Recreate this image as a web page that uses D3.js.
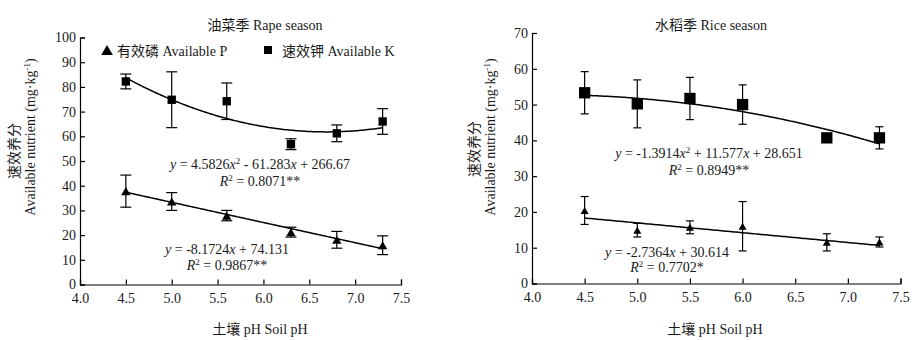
<!DOCTYPE html>
<html>
<head>
<meta charset="utf-8">
<script src="https://cdn.jsdelivr.net/npm/d3@7"></script>
<style>
  body { margin: 0; background: #fff; }
</style>
</head>
<body>
<svg width="918" height="340"></svg>
<script>
// data
const phRape = [4.5, 5.0, 5.6, 6.3, 6.8, 7.3];
const rapeK = [82.2, 74.8, 74.2, 56.8, 61.2, 66.0];
const rapeKErr = [3.0, 11.3, 7.4, 2.2, 3.4, 5.2];
const rapeP = [37.8, 33.6, 27.9, 21.2, 18.1, 15.9];
const rapePErr = [6.5, 3.6, 2.1, 2.0, 3.4, 3.8];

const phRice = [4.5, 5.0, 5.5, 6.0, 6.8, 7.3];
const riceK = [53.3, 50.2, 51.7, 50.0, 40.7, 40.7];
const riceKErr = [5.9, 6.7, 5.9, 5.5, 1.2, 3.1];
const riceP = [20.4, 14.9, 15.7, 16.0, 11.5, 11.6];
const ricePErr = [3.9, 1.9, 1.8, 6.9, 2.4, 1.4];

// trendline coefficients (highest power first)
const rapeKFit = [4.5826, -61.283, 266.67];
const rapePFit = [-8.1724, 74.131];
const riceKFit = [-1.3914, 11.577, 28.651];
const ricePFit = [-2.7364, 30.614];

const xTicks = [4.0, 4.5, 5.0, 5.5, 6.0, 6.5, 7.0, 7.5];

const FONT = '"Liberation Serif", "Noto Sans CJK SC"';

const svg = d3.select("svg");

const poly = (c, x) => c.reduce((acc, k) => acc * x + k, 0);

const triangle = d3.symbol().type(d3.symbolTriangle);
const square = d3.symbol().type(d3.symbolSquare);
// d3 centres the triangle on its centroid, shift so the box is centred instead
const triShift = (size) => Math.sqrt(size / (3 * Math.sqrt(3))) / 2;

// one panel
const drawPanel = (p) => {
  const x = d3.scaleLinear().domain([4, 7.5]).range(p.xRange);
  const y = d3.scaleLinear().domain([0, p.yMax]).range(p.yRange);
  const g = svg.append("g");

  // axes
  g.append("g")
      .attr("transform", `translate(0,${p.yRange[0]})`)
      .call(d3.axisBottom(x).tickValues(xTicks).tickSize(-5).tickPadding(9)
        .tickFormat(d3.format(".1f")))
      .call(a => a.selectAll("text").attr("font-size", 14))
      .call(a => a.selectAll("path,line").attr("stroke", "#000").attr("stroke-width", 1.2));

  g.append("g")
      .attr("transform", `translate(${p.xRange[0]},0)`)
      .call(d3.axisLeft(y).ticks(p.yMax / 10).tickSize(-5).tickPadding(4))
      .call(a => a.selectAll("text").attr("font-size", 14))
      .call(a => a.selectAll("path,line").attr("stroke", "#000").attr("stroke-width", 1.2));

  // trendlines
  const line = d3.line().x(d => x(d[0])).y(d => y(d[1]));
  [p.kFit, p.pFit].forEach(c => {
    const pts = d3.range(p.ph[0], p.ph[p.ph.length - 1] + 0.001, 0.02).map(v => [v, poly(c, v)]);
    g.append("path")
        .attr("d", line(pts))
        .attr("fill", "none")
        .attr("stroke", "#000")
        .attr("stroke-width", 1.5);
  });

  // error bars + markers
  const series = [
    { vals: p.k, err: p.kErr, sym: square.size(p.sqSize), dy: 0 },
    { vals: p.pv, err: p.pErr, sym: triangle.size(p.triSize), dy: triShift(p.triSize) }
  ];
  series.forEach(s => {
    const eg = g.append("g").attr("stroke", "#000").attr("stroke-width", 1.2);
    p.ph.forEach((ph, i) => {
      const cx = x(ph), top = y(s.vals[i] + s.err[i]), bot = y(s.vals[i] - s.err[i]);
      eg.append("line").attr("x1", cx).attr("x2", cx).attr("y1", top).attr("y2", bot);
      eg.append("line").attr("x1", cx - p.cap / 2).attr("x2", cx + p.cap / 2).attr("y1", top).attr("y2", top);
      eg.append("line").attr("x1", cx - p.cap / 2).attr("x2", cx + p.cap / 2).attr("y1", bot).attr("y2", bot);
    });
    g.selectAll(null)
      .data(p.ph)
      .enter().append("path")
        .attr("d", s.sym)
        .attr("transform", (d, i) => `translate(${x(d)},${y(s.vals[i]) + s.dy})`)
        .attr("fill", "#000");
  });

  // titles
  g.append("text")
      .attr("x", p.titleX).attr("y", 30)
      .attr("text-anchor", "middle").attr("font-size", 14)
      .text(p.title);

  g.append("text")
      .attr("x", p.xTitleX).attr("y", 334)
      .attr("text-anchor", "middle").attr("font-size", 14)
      .text("土壤 pH Soil pH");

  g.append("text")
      .attr("transform", `translate(${p.yl1[0]},${p.yl1[1]}) rotate(-90)`)
      .attr("text-anchor", "middle").attr("dy", "0.35em").attr("font-size", 14)
      .text("速效养分");

  const yl = g.append("text")
      .attr("transform", `translate(${p.yl2[0]},${p.yl2[1]}) rotate(-90)`)
      .attr("text-anchor", "middle").attr("dy", "0.35em").attr("font-size", 14);
  yl.append("tspan").text("Available nutrient (mg·kg");
  yl.append("tspan").attr("dy", -5).attr("font-size", 9).text("-1");
  yl.append("tspan").attr("dy", 5).text(")");

  // equations
  p.eqs.forEach(e => {
    const t = g.append("text")
        .attr("x", e.x).attr("y", e.y)
        .attr("text-anchor", "middle").attr("dy", "0.35em").attr("font-size", 14);
    e.parts.forEach(part => {
      const ts = t.append("tspan").text(part.t);
      if (part.i) ts.attr("font-style", "italic");
      if (part.sup) ts.attr("dy", -5).attr("font-size", 9);
      if (part.down) ts.attr("dy", 5);
    });
  });
};

drawPanel({
  title: "油菜季 Rape season",
  titleX: 265, xTitleX: 260,
  xRange: [80, 401], yRange: [284.5, 37.5], yMax: 100,
  ph: phRape, k: rapeK, kErr: rapeKErr, pv: rapeP, pErr: rapePErr,
  kFit: rapeKFit, pFit: rapePFit,
  sqSize: 70, triSize: 38, cap: 11,
  yl1: [14, 151], yl2: [30, 137],
  eqs: [
    { x: 260, y: 164, parts: [{ t: "y", i: 1 }, { t: " = 4.5826" }, { t: "x", i: 1 }, { t: "2", sup: 1 },
      { t: " - 61.283", down: 1 }, { t: "x", i: 1 }, { t: " + 266.67" }] },
    { x: 260, y: 181, parts: [{ t: "R", i: 1 }, { t: "2", sup: 1 }, { t: " = 0.8071**", down: 1 }] },
    { x: 227, y: 249, parts: [{ t: "y", i: 1 }, { t: " = -8.1724" }, { t: "x", i: 1 }, { t: " + 74.131" }] },
    { x: 227, y: 265, parts: [{ t: "R", i: 1 }, { t: "2", sup: 1 }, { t: " = 0.9867**", down: 1 }] }
  ]
});

drawPanel({
  title: "水稻季 Rice season",
  titleX: 711, xTitleX: 715,
  xRange: [532, 900.5], yRange: [283.5, 33], yMax: 70,
  ph: phRice, k: riceK, kErr: riceKErr, pv: riceP, pErr: ricePErr,
  kFit: riceKFit, pFit: ricePFit,
  sqSize: 128, triSize: 28, cap: 8,
  yl1: [474, 149], yl2: [490, 137],
  eqs: [
    { x: 709, y: 153, parts: [{ t: "y", i: 1 }, { t: " = -1.3914" }, { t: "x", i: 1 }, { t: "2", sup: 1 },
      { t: " + 11.577", down: 1 }, { t: "x", i: 1 }, { t: " + 28.651" }] },
    { x: 709, y: 170, parts: [{ t: "R", i: 1 }, { t: "2", sup: 1 }, { t: " = 0.8949**", down: 1 }] },
    { x: 667, y: 252, parts: [{ t: "y", i: 1 }, { t: " = -2.7364" }, { t: "x", i: 1 }, { t: " + 30.614" }] },
    { x: 667, y: 267, parts: [{ t: "R", i: 1 }, { t: "2", sup: 1 }, { t: " = 0.7702*", down: 1 }] }
  ]
});

// legend (left panel only)
const legend = svg.append("g");
legend.append("path").attr("d", triangle.size(60)).attr("transform", `translate(107,${50 + triShift(60)})`).attr("fill", "#000");
legend.append("text").attr("x", 117).attr("y", 51).attr("dy", "0.35em").attr("font-size", 14).text("有效磷 Available P");
legend.append("path").attr("d", square.size(64)).attr("transform", "translate(268,50)").attr("fill", "#000");
legend.append("text").attr("x", 282).attr("y", 51).attr("dy", "0.35em").attr("font-size", 14).text("速效钾 Available K");

// serif everywhere, set inline so the axis defaults do not win
svg.selectAll("text").style("font-family", FONT).style("fill", "#1a1a1a");
</script>
</body>
</html>
